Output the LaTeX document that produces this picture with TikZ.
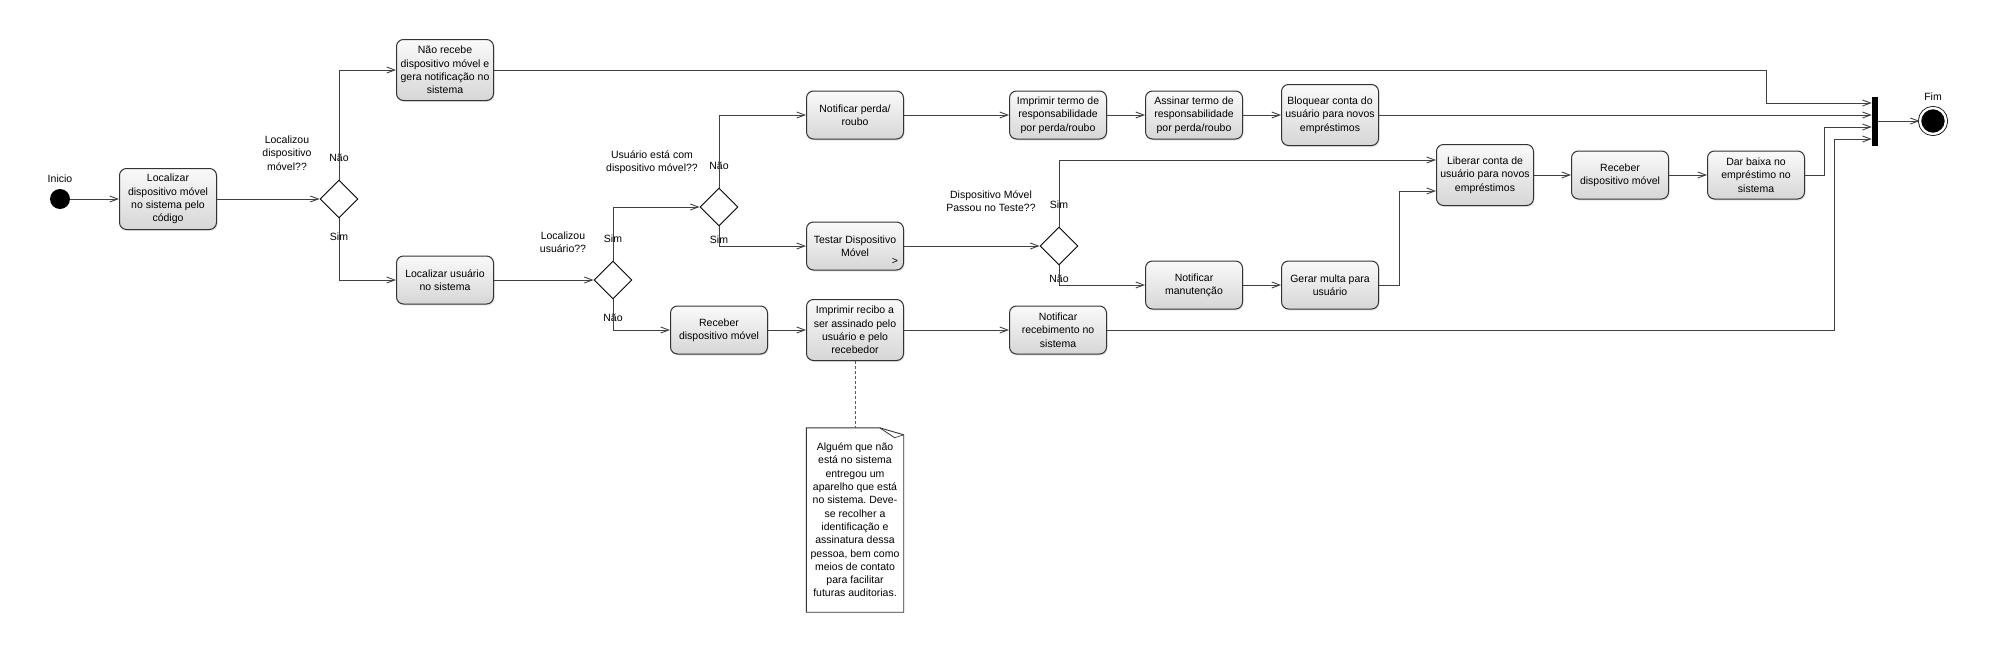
\documentclass[tikz,border=0pt]{standalone}
\usepackage{fontspec}
\setmainfont{Liberation Sans}
\frenchspacing
\usetikzlibrary{shapes, arrows.meta, positioning, shadows}
\tikzstyle{every task} = []
\tikzstyle{every gateway} = []
\tikzstyle{every sequence} = []
\tikzstyle{task} = [rectangle, draw=black!80, top color=black!2, bottom color=black!16,
                      minimum width=97pt, minimum height=48pt, inner sep=2pt,
                      rounded corners=7pt, align=center,
                      drop shadow={shadow xshift=1pt, shadow yshift=-1.5pt, opacity=0.2}, every task]
\tikzstyle{tall task} = [task, minimum height=61pt]
\tikzstyle{gateway} = [diamond, draw, black, fill=white, inner sep=0pt, minimum width=38pt, minimum height=38pt, every gateway]
\tikzstyle{sequence} = [->,>={Straight Barb[length=8pt,width=6pt]},black!75,every sequence]
\tikzstyle{comment} = [dash pattern=on 3pt off 2pt,black!65,line width=0.8pt]
\tikzstyle{guard} = [inner sep=1pt, align=center]
\tikzstyle{event} = [circle, fill=black, minimum size=20pt, inner sep=0pt]
\tikzstyle{end event} = [circle, draw=black, fill=black, double=white, double distance=2.4pt, line width=0.8pt, minimum size=26pt, inner sep=0pt]
\tikzstyle{sync bar} = [rectangle, fill=black, minimum width=6pt, minimum height=49pt, inner sep=0pt]
\tikzstyle{memo} = [rectangle, minimum width=97pt, minimum height=184pt, inner sep=0pt, align=center]

\begin{document}
\begin{tikzpicture}[x=1pt, y=1pt, on grid, font=\fontsize{10.5}{13.3}\selectfont]
  \tikzstyle{every task} = [line width=1pt]
  \tikzstyle{every sequence} = [line width=0.9pt]
  \tikzstyle{every gateway} = [line width=0.9pt]
  \useasboundingbox (0,0) rectangle (1990,-651);

  %Start
  \node[event] (start) at (60,-199) {};
  \node[guard,above=20pt of start] (inicio) {Inicio};
  \node[tall task,right=108pt of start] (locdisp) {Localizar\\ dispositivo móvel\\ no sistema pelo\\ código};
  \draw[sequence,->] (start) -- (locdisp);
  \node[gateway,right=171pt of locdisp] (xg) {};
  \draw[sequence,->] (locdisp) -- (xg);
  \node[guard,above left=46pt and 52pt of xg] (q1) {Localizou\\ dispositivo\\ móvel??};
  \node[guard,above=41pt of xg] (xgnao) {Não};
  \node[guard,below=38pt of xg] (xgsim) {Sim};

  \node[tall task,above right=129pt and 106pt of xg] (naorec) {Não recebe\\ dispositivo móvel e\\ gera notificação no\\ sistema};
  \draw[sequence,->] (xg) |- (naorec);
  \node[task,below right=81pt and 106pt of xg] (locusr) {Localizar usuário\\ no sistema};
  \draw[sequence,->] (xg) |- (locusr);

  %Usuario
  \node[gateway,right=168pt of locusr] (xg2) {};
  \draw[sequence,->] (locusr) -- (xg2);
  \node[guard,above left=38pt and 50pt of xg2] (q2) {Localizou\\ usuário??};
  \node[guard,above=41pt of xg2] (xg2sim) {Sim};
  \node[guard,below=38pt of xg2] (xg2nao) {Não};

  \node[gateway,above right=73pt and 106pt of xg2] (xg3) {};
  \draw[sequence,->] (xg2) |- (xg3);
  \node[guard,above left=45pt and 67pt of xg3] (q3) {Usuário está com\\ dispositivo móvel??};
  \node[guard,above=41pt of xg3] (xg3nao) {Não};
  \node[guard,below=33pt of xg3] (xg3sim) {Sim};

  \node[task,below right=50pt and 106pt of xg2] (receb) {Receber\\ dispositivo móvel};
  \draw[sequence,->] (xg2) |- (receb);
  \node[tall task,right=136pt of receb] (recibo) {Imprimir recibo a\\ ser assinado pelo\\ usuário e pelo\\ recebedor};
  \draw[sequence,->] (receb) -- (recibo);
  \node[task,right=203pt of recibo] (notrec) {Notificar\\ recebimento no\\ sistema};
  \draw[sequence,->] (recibo) -- (notrec);

  %Note
  \node[memo,below=190pt of recibo] (nota) {Alguém que não\\ está no sistema\\ entregou um\\ aparelho que está\\ no sistema. Deve-\\ se recolher a\\ identificação e\\ assinatura dessa\\ pessoa, bem como\\ meios de contato\\ para facilitar\\ futuras auditorias.};
  \draw[black!80,line width=0.9pt] (nota.north west) -- ([xshift=-24pt]nota.north east) -- ([yshift=-7pt]nota.north east) -- (nota.south east) -- (nota.south west) -- cycle;
  \draw[black!80,line width=0.7pt] ([xshift=-24pt]nota.north east) -- ([xshift=-9pt,yshift=-10pt]nota.north east) -- ([yshift=-7pt]nota.north east);
  \draw[comment] (recibo) -- (nota);

  %Perda
  \node[task,above right=92pt and 136pt of xg3] (perda) {Notificar perda/\\ roubo};
  \draw[sequence,->] (xg3) |- (perda);
  \node[task,right=203pt of perda] (termo) {Imprimir termo de\\ responsabilidade\\ por perda/roubo};
  \draw[sequence,->] (perda) -- (termo);
  \node[task,right=136pt of termo] (assinar) {Assinar termo de\\ responsabilidade\\ por perda/roubo};
  \draw[sequence,->] (termo) -- (assinar);
  \node[tall task,right=136pt of assinar] (bloq) {Bloquear conta do\\ usuário para novos\\ empréstimos};
  \draw[sequence,->] (assinar) -- (bloq);

  %Teste
  \node[task,below right=39pt and 136pt of xg3] (testar) {Testar Dispositivo\\ Móvel};
  \node[inner sep=0pt] (testarsub) at ([xshift=-9pt,yshift=9pt]testar.south east) {>};
  \draw[sequence,->] (xg3) |- (testar);
  \node[gateway,right=204pt of testar] (xg4) {};
  \draw[sequence,->] (testar) -- (xg4);
  \node[guard,above left=45pt and 68pt of xg4] (q4) {Dispositivo Móvel\\ Passou no Teste??};
  \node[guard,above=41pt of xg4] (xg4sim) {Sim};
  \node[guard,below=33pt of xg4] (xg4nao) {Não};

  \node[task,below right=39pt and 135pt of xg4] (manut) {Notificar\\ manutenção};
  \draw[sequence,->] (xg4) |- (manut);
  \node[task,right=136pt of manut] (multa) {Gerar multa para\\ usuário};
  \draw[sequence,->] (manut) -- (multa);
  \node[tall task,above right=110pt and 155pt of multa] (liberar) {Liberar conta de\\ usuário para novos\\ empréstimos};
  \draw[sequence,->] (xg4) |- ([yshift=15pt]liberar.west);
  \draw[sequence,->] (multa.east) -- ++(20,0) |- ([yshift=-16pt]liberar.west);
  \node[task,right=135pt of liberar] (receb2) {Receber\\ dispositivo móvel};
  \draw[sequence,->] (liberar) -- (receb2);
  \node[task,right=136pt of receb2] (baixa) {Dar baixa no\\ empréstimo no\\ sistema};
  \draw[sequence,->] (receb2) -- (baixa);

  %End
  \node[sync bar,above right=54pt and 119pt of baixa] (syncbar) {};
  \draw[sequence,->] (naorec.east) -- ++(1272,0) |- ([yshift=18pt]syncbar.west);
  \draw[sequence,->] (bloq) -- ([yshift=6pt]syncbar.west);
  \draw[sequence,->] (baixa.east) -- ++(19,0) |- ([yshift=-6pt]syncbar.west);
  \draw[sequence,->] (notrec.east) -- ++(727,0) |- ([yshift=-18pt]syncbar.west);
  \node[end event,right=58pt of syncbar] (end) {};
  \node[guard,above=24pt of end] (fim) {Fim};
  \draw[sequence,->] (syncbar) -- (end);
\end{tikzpicture}
\end{document}
